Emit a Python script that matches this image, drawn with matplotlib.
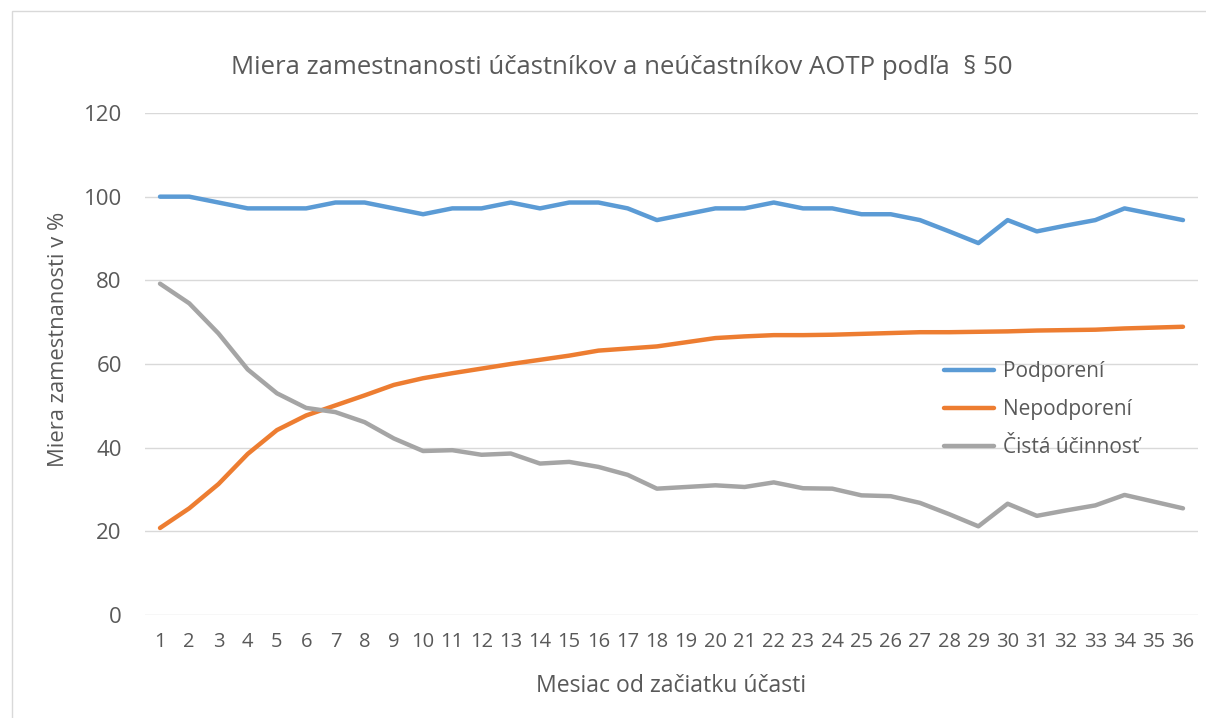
import matplotlib
matplotlib.use("Agg")
import matplotlib.pyplot as plt
from matplotlib.patches import Rectangle

months = list(range(1, 37))
podporeni = [100, 100, 98.6, 97.2, 97.2, 97.2, 98.6, 98.6, 97.2, 95.8, 97.2, 97.2,
             98.6, 97.2, 98.6, 98.6, 97.2, 94.4, 95.8, 97.2, 97.2, 98.6, 97.2, 97.2,
             95.8, 95.8, 94.4, 91.7, 88.9, 94.4, 91.7, 93.1, 94.4, 97.2, 95.8, 94.4]
nepodporeni = [20.8, 25.5, 31.3, 38.5, 44.2, 47.7, 50.1, 52.5, 55.0, 56.6, 57.8, 58.9,
               60.0, 61.0, 62.0, 63.2, 63.7, 64.2, 65.2, 66.2, 66.6, 66.9, 66.9, 67.0,
               67.2, 67.4, 67.6, 67.6, 67.7, 67.8, 68.0, 68.1, 68.2, 68.5, 68.7, 68.9]
cista = [79.2, 74.5, 67.3, 58.7, 53.0, 49.5, 48.5, 46.1, 42.2, 39.2, 39.4, 38.3,
         38.6, 36.2, 36.6, 35.4, 33.5, 30.2, 30.6, 31.0, 30.6, 31.7, 30.3, 30.2,
         28.6, 28.4, 26.8, 24.1, 21.2, 26.6, 23.7, 25.0, 26.2, 28.7, 27.1, 25.5]
series_names = ["Podporení", "Nepodporení", "Čistá účinnosť"]
title = "Miera zamestnanosti účastníkov a neúčastníkov AOTP podľa  § 50"
xlabel = "Mesiac od začiatku účasti"
ylabel = "Miera zamestnanosti v %"
yticks = [0, 20, 40, 60, 80, 100, 120]

plt.rcParams['font.family'] = ['Open Sans', 'DejaVu Sans']
txt = '#595959'

W, H = 1206, 718
fig = plt.figure(figsize=(W / 100, H / 100), dpi=100)
fig.patches.append(Rectangle((11.5 / W, -0.05), 1.1, (H - 11.5) / H + 0.05,
                             transform=fig.transFigure, fill=False,
                             edgecolor='#D9D9D9', linewidth=1.0))

left, right, top, bottom = 145.4, 1197.6, 113, 615
ax = fig.add_axes([left / W, 1 - bottom / H, (right - left) / W, (bottom - top) / H])

colors = ['#5B9BD5', '#ED7D31', '#A5A5A5']
for vals, name, c in zip([podporeni, nepodporeni, cista], series_names, colors):
    ax.plot(months, vals, color=c, linewidth=3.2, label=name,
            solid_capstyle='round', solid_joinstyle='round')

ax.set_xlim(0.5, 36.5)
ax.set_ylim(0, 120)
ax.set_yticks(yticks)
ax.set_xticks(months)
ax.set_xticklabels([str(m) for m in months])
ax.grid(axis='y', color='#D9D9D9', linewidth=1.0)
ax.set_axisbelow(True)
for s in ax.spines.values():
    s.set_visible(False)
ax.tick_params(axis='both', length=0, colors=txt)
ax.tick_params(axis='y', labelsize=16, pad=17)
ax.tick_params(axis='x', labelsize=14.5, pad=12)

fig.text(622 / W, 1 - 73.5 / H, title, ha='center', va='baseline', fontsize=18.5, color=txt)
fig.text(671 / W, 1 - 692 / H, xlabel, ha='center', va='baseline', fontsize=16.6, color=txt)
fig.text(59 / W, 1 - 339 / H, ylabel, ha='center', va='center', rotation=90,
         fontsize=15.8, color=txt)

leg = ax.legend(loc='upper left', bbox_to_anchor=(944 / W, 1 - 361 / H),
                bbox_transform=fig.transFigure, frameon=False, fontsize=15,
                handlelength=2.4, handletextpad=0.45, labelspacing=0.82,
                labelcolor=txt, borderaxespad=0, borderpad=0)

fig.savefig("out.png", dpi=100)
